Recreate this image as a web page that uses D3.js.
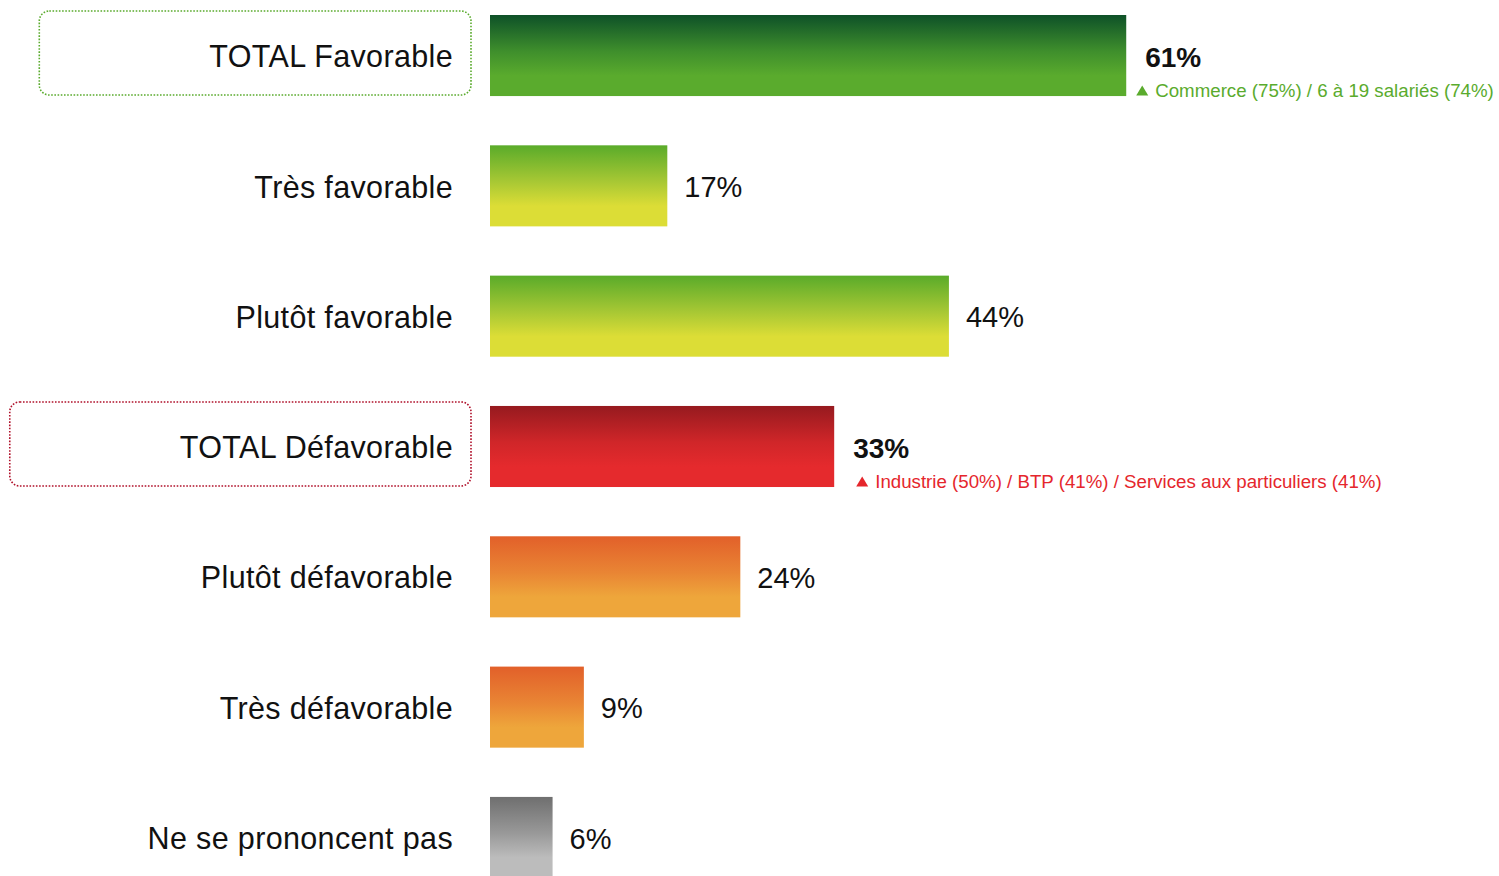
<!DOCTYPE html>
<html>
<head>
<meta charset="utf-8">
<script src="https://cdn.jsdelivr.net/npm/d3@7"></script>
<style>
  html, body { margin: 0; padding: 0; background: #fff; }
  svg { display: block; font-family: "Liberation Sans", Arial, sans-serif; }
</style>
</head>
<body>
<div id="chart"></div>
<script>
// categories, values and kind of bar (total / sub / nsp)
const categories = ["TOTAL Favorable", "Très favorable", "Plutôt favorable", "TOTAL Défavorable", "Plutôt défavorable", "Très défavorable", "Ne se prononcent pas"];
const values = [61, 17, 44, 33, 24, 9, 6];
const groups = ["favTotal", "fav", "fav", "defTotal", "def", "def", "nsp"];
const notes = {
  "TOTAL Favorable": "Commerce (75%) / 6 à 19 salariés (74%)",
  "TOTAL Défavorable": "Industrie (50%) / BTP (41%) / Services aux particuliers (41%)"
};

const width = 1499, height = 876;

const gradients = {
  favTotal: ["#0e5128", "#3f8f2c", "#5aab2d"],
  fav:      ["#5aab2a", "#a8c834", "#dcdd36"],
  defTotal: ["#961a1f", "#d02629", "#e52a2d"],
  def:      ["#e2602a", "#e98534", "#eea63b"],
  nsp:      ["#6f6f6f", "#999999", "#bcbcbc"]
};
const noteColor = { favTotal: "#5aab2d", defTotal: "#e5262c" };
const boxColor = { favTotal: "#5aab2d", defTotal: "#b0102a" };
const noteShift = { favTotal: 0, defTotal: 12 };

const data = categories.map((c, i) => ({ name: c, value: values[i], group: groups[i] }));

const svg = d3.select("#chart").append("svg")
    .attr("width", width)
    .attr("height", height)
    .attr("viewBox", [0, 0, width, height]);

const x = d3.scaleLinear().domain([0, 100]).range([490, 490 + 1043]);
const y = d3.scaleBand()
    .domain(categories)
    .range([15, 15 + 6 * 130.33 + 81])
    .paddingInner(0.378)
    .paddingOuter(0);

// vertical gradients for the bars
const defs = svg.append("defs");
Object.entries(gradients).forEach(([key, cols]) => {
  const g = defs.append("linearGradient")
      .attr("id", "grad-" + key)
      .attr("x1", 0).attr("y1", 0).attr("x2", 0).attr("y2", 1);
  g.append("stop").attr("offset", "0%").attr("stop-color", cols[0]);
  g.append("stop").attr("offset", "45%").attr("stop-color", cols[1]);
  g.append("stop").attr("offset", "75%").attr("stop-color", cols[2]);
  g.append("stop").attr("offset", "100%").attr("stop-color", cols[2]);
});

// bars
svg.append("g")
  .selectAll("rect")
  .data(data)
  .join("rect")
    .attr("x", x(0))
    .attr("y", d => y(d.name))
    .attr("width", d => x(d.value) - x(0))
    .attr("height", y.bandwidth())
    .attr("fill", d => `url(#grad-${d.group})`);

// category labels
const labels = svg.append("g")
  .selectAll("text")
  .data(data)
  .join("text")
    .attr("x", 453)
    .attr("y", d => y(d.name) + y.bandwidth() / 2 + 1)
    .attr("dy", "0.35em")
    .attr("text-anchor", "end")
    .attr("font-size", 30.5)
    .attr("letter-spacing", 0.35)
    .attr("fill", "#111")
    .text(d => d.name);

// dotted boxes round the totals
labels.filter(d => d.group in boxColor).each(function(d) {
  const bb = this.getBBox();
  svg.insert("rect", "g")
      .attr("x", bb.x - 170)
      .attr("y", y(d.name) - 4)
      .attr("width", 471 - (bb.x - 170))
      .attr("height", y.bandwidth() + 3)
      .attr("rx", 10)
      .attr("fill", "none")
      .attr("stroke", boxColor[d.group])
      .attr("stroke-width", 1.6)
      .attr("stroke-dasharray", "1.6 1.6");
});

// value labels
svg.append("g")
  .selectAll("text")
  .data(data)
  .join("text")
    .attr("x", d => x(d.value) + (d.group in noteColor ? 19 : 17))
    .attr("y", d => y(d.name) + y.bandwidth() / 2 + (d.group in noteColor ? 2 : 1))
    .attr("dy", "0.35em")
    .attr("font-size", d => d.group in noteColor ? 28 : 29)
    .attr("font-weight", d => d.group in noteColor ? "bold" : "normal")
    .attr("fill", "#111")
    .text(d => d.value + "%");

// notes under the totals
const noted = data.filter(d => notes[d.name]);
const note = svg.append("g")
  .selectAll("g")
  .data(noted)
  .join("g")
    .attr("transform", d => `translate(${x(d.value) + noteShift[d.group]},${y(d.name) + y.bandwidth() / 2 + 35})`)
    .attr("fill", d => noteColor[d.group]);

note.append("path")
    .attr("d", "M10,5 L22,5 L16,-5 Z");

note.append("text")
    .attr("x", 29)
    .attr("dy", "0.35em")
    .attr("font-size", 18.7)
    .text(d => notes[d.name]);
</script>
</body>
</html>
